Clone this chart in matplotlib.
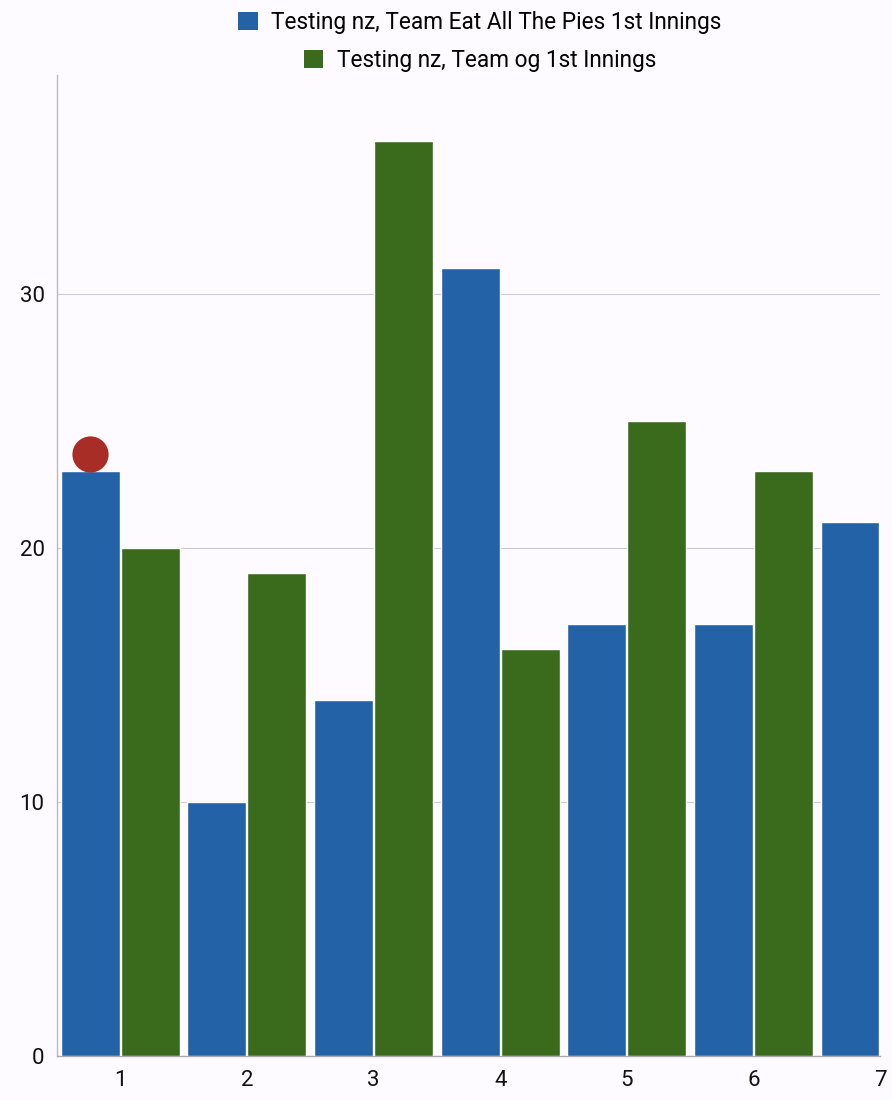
import matplotlib
matplotlib.use("Agg")
import matplotlib.pyplot as plt
import numpy as np
from matplotlib.patches import Patch

plt.rcParams['font.family'] = ['Roboto', 'DejaVu Sans']

### DATA ###
innings = [1, 2, 3, 4, 5, 6, 7]
pies_runs = [23, 10, 14, 31, 17, 17, 21]
og_runs = [20, 19, 36, 16, 25, 23]
highlight_x = 1
highlight_y = 23.7

series_names = [
    "Testing nz, Team Eat All The Pies 1st Innings",
    "Testing nz, Team og 1st Innings",
]

BLUE = "#2462a8"
GREEN = "#3a6b1d"
RED = "#a92d27"
BG = "#fdfbff"

### CREATE PLOT ###
fig = plt.figure(figsize=(8.92, 11), dpi=100, facecolor=BG)
ax = fig.add_axes([57 / 892, 44 / 1100, 823 / 892, 981 / 1100], facecolor=BG)

offset = 0.237
width = 0.465
x_pies = np.array(innings) - offset
x_og = np.array(innings[:len(og_runs)]) + offset

ax.bar(x_pies, pies_runs, width=width, color=BLUE, edgecolor="white", linewidth=1, zorder=3)
ax.bar(x_og, og_runs, width=width, color=GREEN, edgecolor="white", linewidth=1, zorder=3)

# highlight dot on top of first bar
ax.scatter([highlight_x - offset], [highlight_y], s=680, color=RED, zorder=4, linewidths=0)

ax.set_xlim(0.5, 7)
ax.set_ylim(0, 38.6)
ax.set_xticks(innings)
ax.set_yticks([0, 10, 20, 30])
ax.tick_params(axis="both", length=0, labelsize=16, colors="#111111")
ax.tick_params(axis="x", pad=10)
ax.tick_params(axis="y", pad=9)

ax.grid(axis="y", color="#cccccc", linewidth=0.8, zorder=0)
for side in ["top", "right"]:
    ax.spines[side].set_visible(False)
ax.spines["left"].set_color("#bbbbbb")
ax.spines["bottom"].set_color("#aaaaaa")
ax.spines["left"].set_linewidth(1)
ax.spines["bottom"].set_linewidth(1)

# one centered legend row per series
for name, color, ypix in [(series_names[0], BLUE, 22), (series_names[1], GREEN, 60)]:
    fig.legend(handles=[Patch(facecolor=color, label=name)], loc="center",
               bbox_to_anchor=(480 / 892, 1 - ypix / 1100), frameon=False,
               fontsize=16.3, handlelength=0.85, handleheight=0.85, handletextpad=0.6,
               borderpad=0, borderaxespad=0)

fig.savefig("out.png", dpi=100, facecolor=BG)
